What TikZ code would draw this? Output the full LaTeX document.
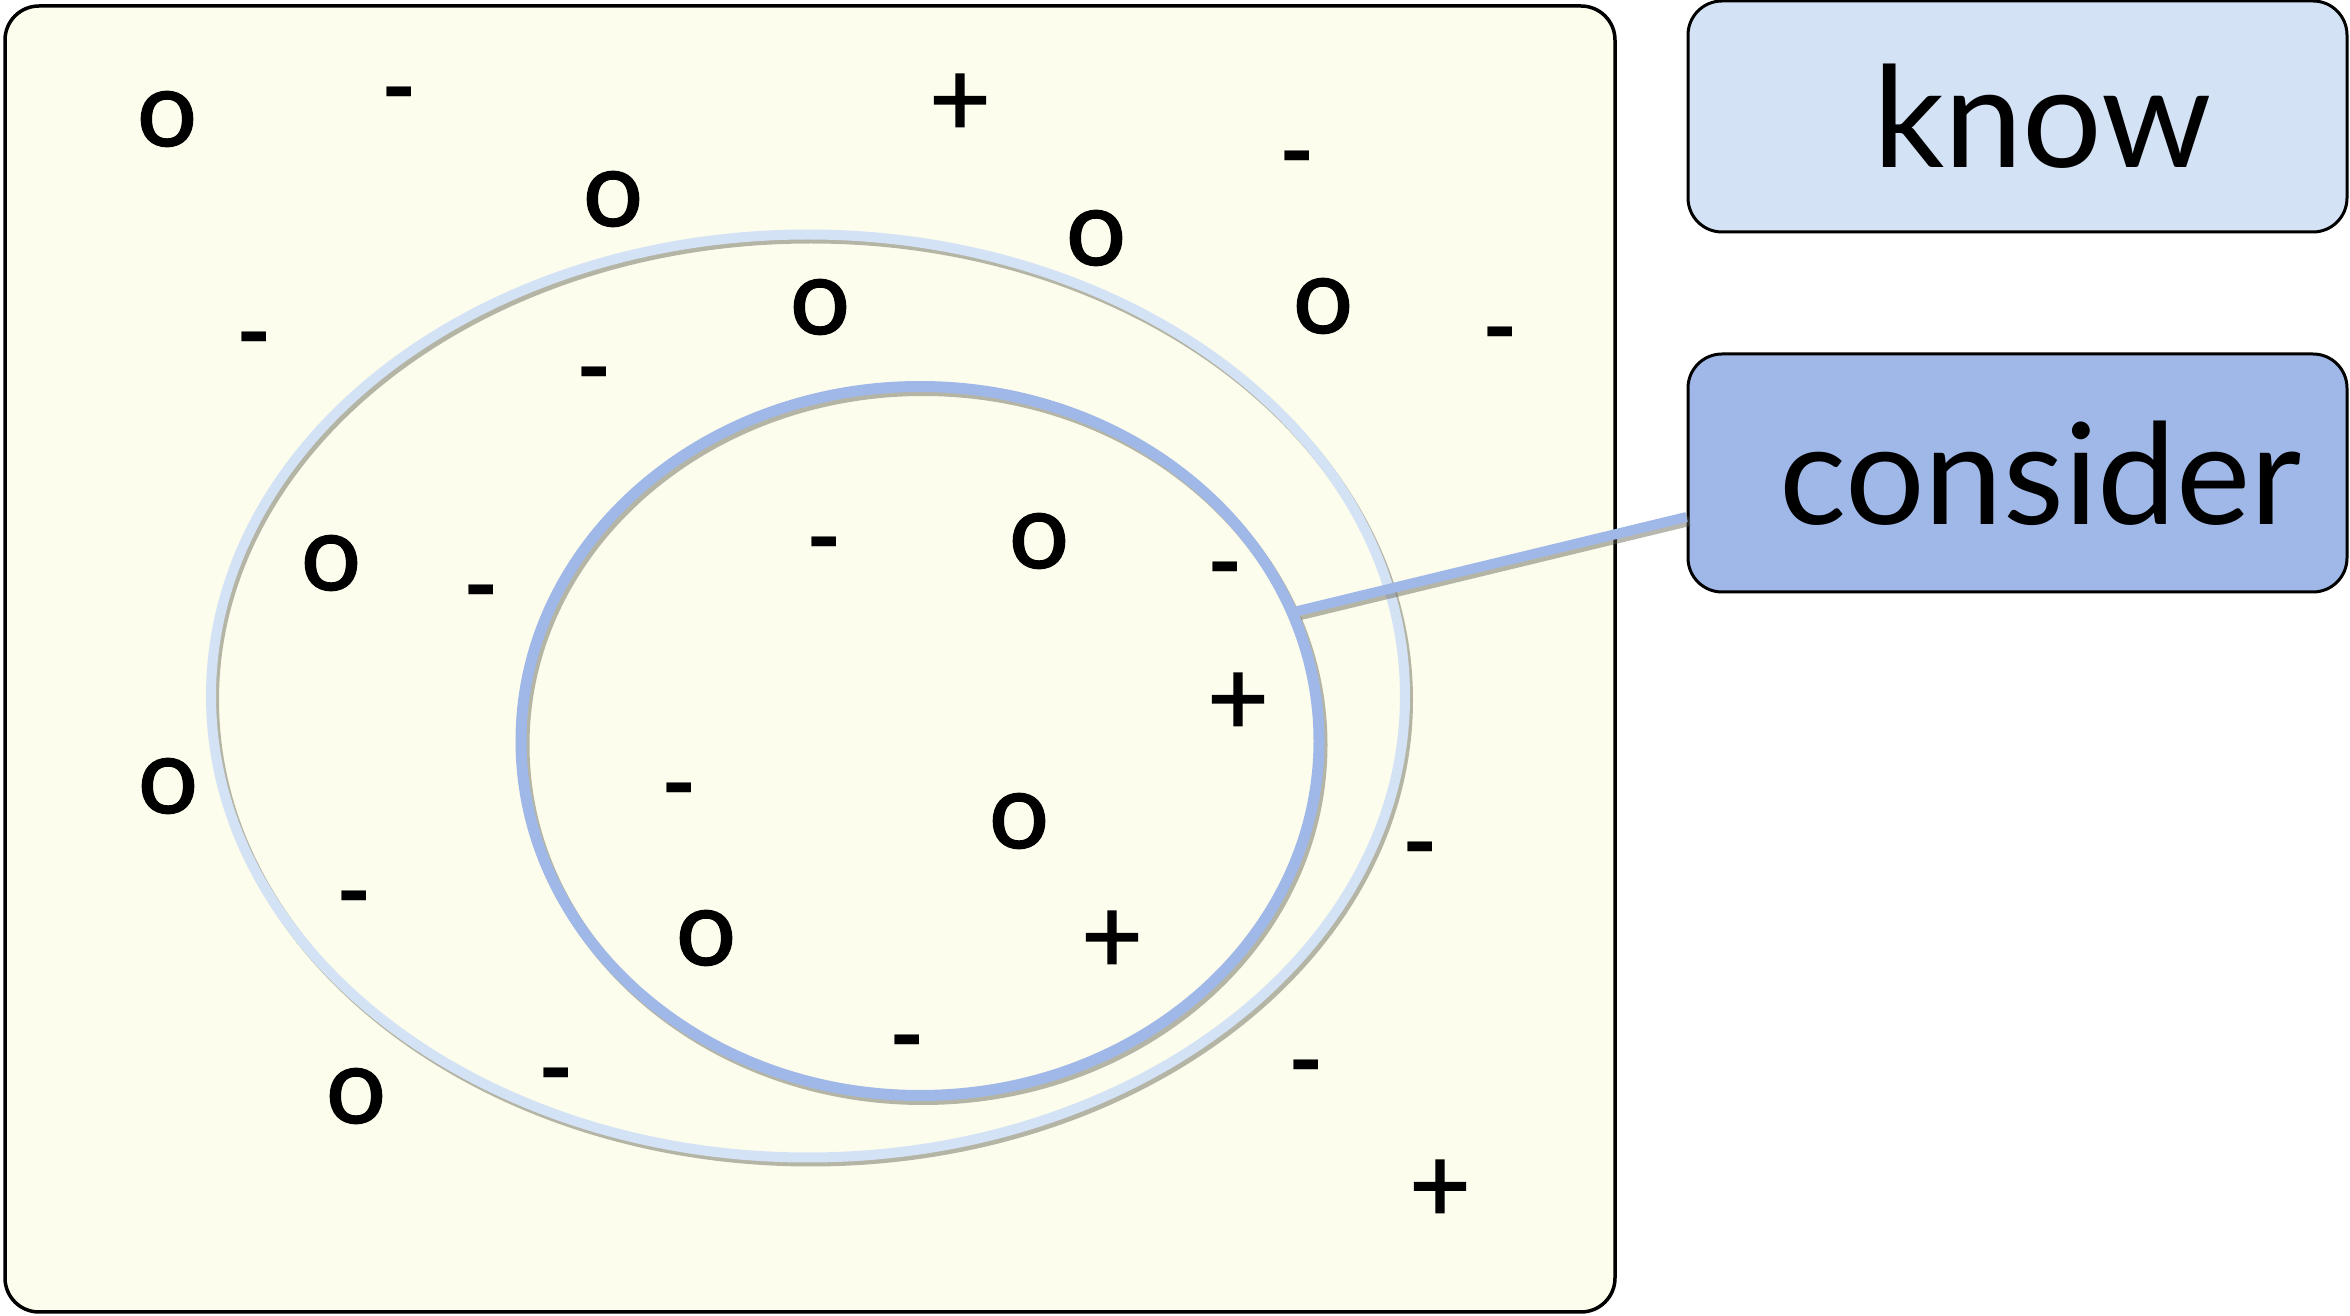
\documentclass[tikz,border=0pt]{standalone}
\usepackage{fontspec}
\setmainfont{Lato}
\newfontfamily\itemfont{Lato}[FakeBold=1.6]
\usepackage{tikz}
\usetikzlibrary{shapes.geometric}
\definecolor{paper}{RGB}{253,253,237}
\definecolor{knowblue}{RGB}{212,226,245}
\definecolor{considerblue}{RGB}{160,184,232}
\definecolor{shadowgray}{RGB}{95,95,80}

\begin{document}
\begin{tikzpicture}[x=0.1mm,y=-0.1mm,
  sym/.style={inner sep=0pt,font=\fontsize{30}{36}\itemfont},
  minus/.style={sym,yshift=-1.4mm,font=\fontsize{27}{32}\selectfont\bfseries},
  tag/.style={draw,line width=0.3mm,rounded corners=3.4mm,minimum width=65.9mm,
              inner sep=0pt,font=\fontsize{40}{48}\selectfont},
  ring/.style={ellipse,inner sep=0pt},
  halo/.style={draw=shadowgray,opacity=0.45}]
\useasboundingbox (0,0) rectangle (2350,1316);
% the whole space
\node[draw,fill=paper,line width=0.35mm,rounded corners=3.4mm,
      minimum width=161mm,minimum height=130.6mm] (world) at (810,659) {};
% known and considered sets
\node[ring,halo,line width=1mm,minimum width=119.4mm,minimum height=92.3mm] (known-sh) at (811,700) {};
\node[ring,draw=knowblue,line width=1mm,minimum width=119.4mm,minimum height=92.3mm] (known) at (808,696) {};
\node[ring,halo,line width=1.1mm,minimum width=79.8mm,minimum height=70.9mm] (considered-sh) at (923,745) {};
\node[ring,draw=considerblue,line width=1.1mm,minimum width=79.8mm,minimum height=70.9mm] (considered) at (920,741) {};
% items
\foreach \x/\y [count=\i] in {167/119,613/199,1096/238,820/307,1323/306,1039/541,
    331/563,168/786,1019/821,706/938,356/1096}
  \node[sym] (o\i) at (\x,\y) {o};
\foreach \x/\y [count=\i] in {399/90,1297/154,254/335,594/370,1500/330,824/540,
    1225/565,481/588,679/786,1420/845,354/894,907/1038,556/1071,1306/1063}
  \node[minus] (m\i) at (\x,\y) {-};
\foreach \x/\y [count=\i] in {960/105,1238/704,1112/942,1440/1191}
  \node[sym] (p\i) at (\x,\y) {+};
% legend
\node[tag,fill=knowblue,minimum height=23.1mm] (know) at (2017.5,116.5) {\hspace*{5mm}know};
\node[tag,fill=considerblue,minimum height=23.8mm] (consider) at (2017.5,473) {\hspace*{4.6mm}consider};
\draw[halo,line width=1mm] ([shift={(0.3mm,-0.4mm)}]considered.19) -- ([shift={(0.3mm,-0.4mm)}]consider.west |- 0,517);
\draw[considerblue,line width=1mm] (considered.19) -- (consider.west |- 0,517);
\end{tikzpicture}
\end{document}
